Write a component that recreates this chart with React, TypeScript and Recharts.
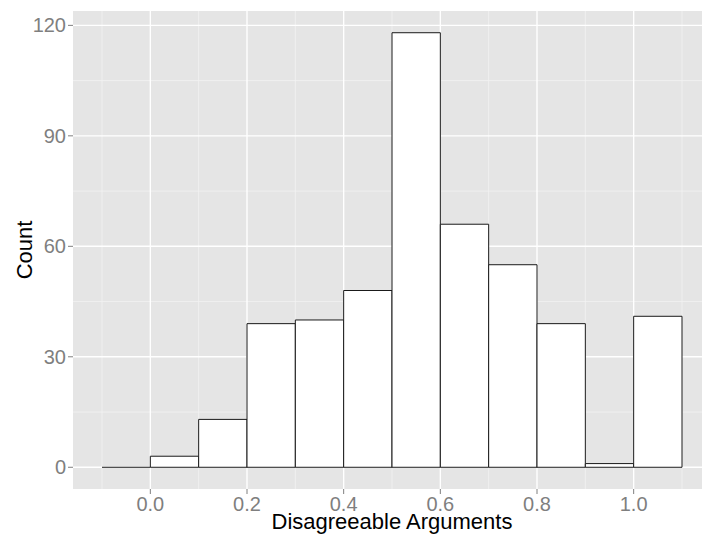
import { CartesianGrid, ComposedChart, Label, Line, ReferenceArea, ReferenceLine, XAxis, YAxis } from "recharts";

// histogram bins (left edge, width 0.1) and their counts
const binStarts = [-0.1, 0.0, 0.1, 0.2, 0.3, 0.4, 0.5, 0.6, 0.7, 0.8, 0.9, 1.0];
const counts = [0, 3, 13, 39, 40, 48, 118, 66, 55, 39, 1, 41];
const binWidth = 0.1;

const xTicks = [0.0, 0.2, 0.4, 0.6, 0.8, 1.0];
const xMinor = [-0.1, 0.1, 0.3, 0.5, 0.7, 0.9, 1.1];
const yTicks = [0, 30, 60, 90, 120];
const yMinor = [15, 45, 75, 105];

const xDomain: [number, number] = [-0.16, 1.16];
const yDomain: [number, number] = [-5.9, 123.9];

const data = binStarts.map((start, i) => ({
  start,
  end: +(start + binWidth).toFixed(2),
  mid: +(start + binWidth / 2).toFixed(2),
  count: counts[i],
}));

const FONT = '"Liberation Sans", Arial, Helvetica, sans-serif';
const TICK = { fill: "#7f7f7f", fontSize: 20, fontFamily: FONT };
const BAR_STROKE = "#1a1a1a";

function XTitle({ viewBox }: any) {
  const { x, y, width, height } = viewBox;
  return (
    <text
      x={x + width / 2}
      y={y + height - 7.5}
      textAnchor="middle"
      fontSize={22}
      fontFamily={FONT}
      fill="#000"
    >
      Disagreeable Arguments
    </text>
  );
}

function YTitle({ viewBox }: any) {
  const { x, y, height } = viewBox;
  const cx = x + 31.5;
  const cy = y + height / 2;
  return (
    <text
      x={cx}
      y={cy}
      transform={`rotate(-90, ${cx}, ${cy})`}
      textAnchor="middle"
      fontSize={22}
      fontFamily={FONT}
      fill="#000"
    >
      Count
    </text>
  );
}

export default function App() {
  return (
    <div
      style={{
        position: "absolute",
        left: 0,
        top: 0,
        width: 702,
        height: 536,
        overflow: "hidden",
        background: "#fff",
      }}
    >
      <ComposedChart
        width={712}
        height={536}
        data={data}
        margin={{ top: 11, right: 1, bottom: 0, left: 0 }}
      >
        <CartesianGrid
          fill="#e5e5e5"
          stroke="#f2f2f2"
          strokeWidth={0.8}
          horizontalValues={yMinor}
          verticalValues={xMinor}
        />
        <CartesianGrid
          stroke="#ffffff"
          strokeWidth={1.4}
          horizontalValues={yTicks}
          verticalValues={xTicks}
        />
        <XAxis
          dataKey="mid"
          type="number"
          domain={xDomain}
          ticks={xTicks}
          allowDataOverflow
          tickFormatter={(v) => Number(v).toFixed(1)}
          axisLine={false}
          tickLine={{ stroke: "#7f7f7f" }}
          tickSize={5}
          tickMargin={3}
          tick={TICK}
          height={47}
        >
          <Label content={<XTitle />} />
        </XAxis>
        <YAxis
          type="number"
          domain={yDomain}
          ticks={yTicks}
          allowDataOverflow
          axisLine={false}
          tickLine={{ stroke: "#7f7f7f" }}
          tickSize={5}
          tickMargin={2}
          tick={TICK}
          width={73}
        >
          <Label content={<YTitle />} />
        </YAxis>
        {data.map((d) =>
          d.count > 0 ? (
            <ReferenceArea
              key={d.start}
              x1={d.start}
              x2={d.end}
              y1={0}
              y2={d.count}
              fill="#ffffff"
              fillOpacity={1}
              stroke={BAR_STROKE}
              strokeWidth={1}
              ifOverflow="visible"
            />
          ) : (
            <ReferenceLine
              key={d.start}
              segment={[
                { x: d.start, y: 0 },
                { x: d.end, y: 0 },
              ]}
              stroke={BAR_STROKE}
              strokeWidth={1}
              ifOverflow="visible"
            />
          )
        )}
        <Line
          dataKey="count"
          stroke="none"
          dot={false}
          activeDot={false}
          legendType="none"
          isAnimationActive={false}
        />
      </ComposedChart>
    </div>
  );
}
